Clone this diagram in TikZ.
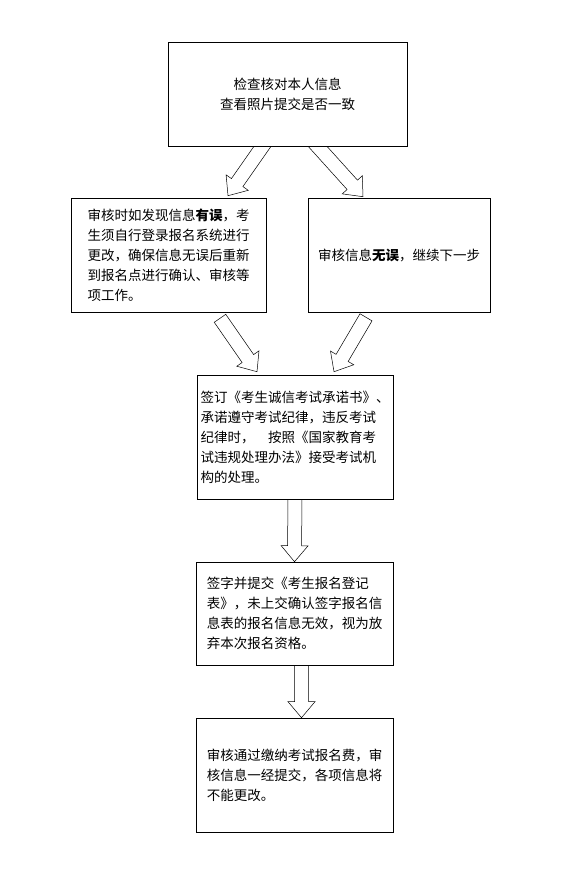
\documentclass[tikz,border=0pt]{standalone}
\usepackage{fontspec}
\setmainfont{Noto Sans CJK SC}
\usetikzlibrary{calc, backgrounds}

\newcommand{\flowarrow}[2]{%
	\coordinate (fa-n) at ($(#2)!16pt!(#1)$);
	\draw[blockarrow] ($(#1)!7pt!90:(#2)$) -- ($(fa-n)!7pt!90:(#2)$) -- ($(fa-n)!13.5pt!90:(#2)$) -- (#2) -- ($(fa-n)!13.5pt!-90:(#2)$) -- ($(fa-n)!7pt!-90:(#2)$) -- ($(#1)!7pt!-90:(#2)$) -- cycle;
}

\begin{document}
\begin{tikzpicture}[x = 1pt, y = -1pt,
	font = \fontsize{13.5}{20}\selectfont,
	box/.style = {draw, line width = 0.6pt, fill = white, inner sep = 0pt},
	blockarrow/.style = {draw, line width = 0.5pt, fill = white}]
	\useasboundingbox (0, 0) rectangle (569, 873);
	\node[box, minimum width = 239, minimum height = 104, align = center] (check) at (287.5, 94) {检查核对本人信息\\查看照片提交是否一致};
	\node[box, minimum width = 195, minimum height = 114, align = left] (wrong) at (168.5, 255) {审核时如发现信息\textbf{有误}，考\\生须自行登录报名系统进行\\更改，确保信息无误后重新\\到报名点进行确认、审核等\\项工作。};
	\node[box, minimum width = 182, minimum height = 114, align = center] (ok) at (399, 255) {审核信息\textbf{无误}，继续下一步};
	\node[box, minimum width = 196, minimum height = 124, align = left] (pledge) at (295, 437) {签订《考生诚信考试承诺书》、\\承诺遵守考试纪律，违反考试\\纪律时，\hspace{1em}按照《国家教育考\\试违规处理办法》接受考试机\\构的处理。};
	\node[box, minimum width = 197, minimum height = 103, align = left] (sign) at (294.5, 613.5) {签字并提交《考生报名登记\\表》，未上交确认签字报名信\\息表的报名信息无效，视为放\\弃本次报名资格。};
	\node[box, minimum width = 197, minimum height = 114, align = left] (pay) at (294.5, 775) {审核通过缴纳考试报名费，审\\核信息一经提交，各项信息将\\不能更改。};
	\coordinate (t1) at ($(check.south) + (-18, -10)$);
	\coordinate (h1) at ($(wrong.north) + (59.5, -2)$);
	\coordinate (t2) at ($(check.south) + (21, -10)$);
	\coordinate (h2) at ($(ok.north) + (-36, -1)$);
	\coordinate (t3) at ($(wrong.south) + (51.5, 6)$);
	\coordinate (h3) at ($(pledge.north) + (-38, -3)$);
	\coordinate (t4) at ($(ok.south) + (-33, 5)$);
	\coordinate (h4) at ($(pledge.north) + (39, -3)$);
	\coordinate (t5) at ($(pledge.south) + (0, -10)$);
	\coordinate (t6) at ($(sign.south) + (7, -10)$);
	\coordinate (h6) at ($(pay.north) + (7, 0)$);
	\begin{scope}[on background layer]
		\flowarrow{t1}{h1}
		\flowarrow{t2}{h2}
		\flowarrow{t3}{h3}
		\flowarrow{t4}{h4}
		\flowarrow{t5}{sign.north}
		\flowarrow{t6}{h6}
	\end{scope}
\end{tikzpicture}
\end{document}
